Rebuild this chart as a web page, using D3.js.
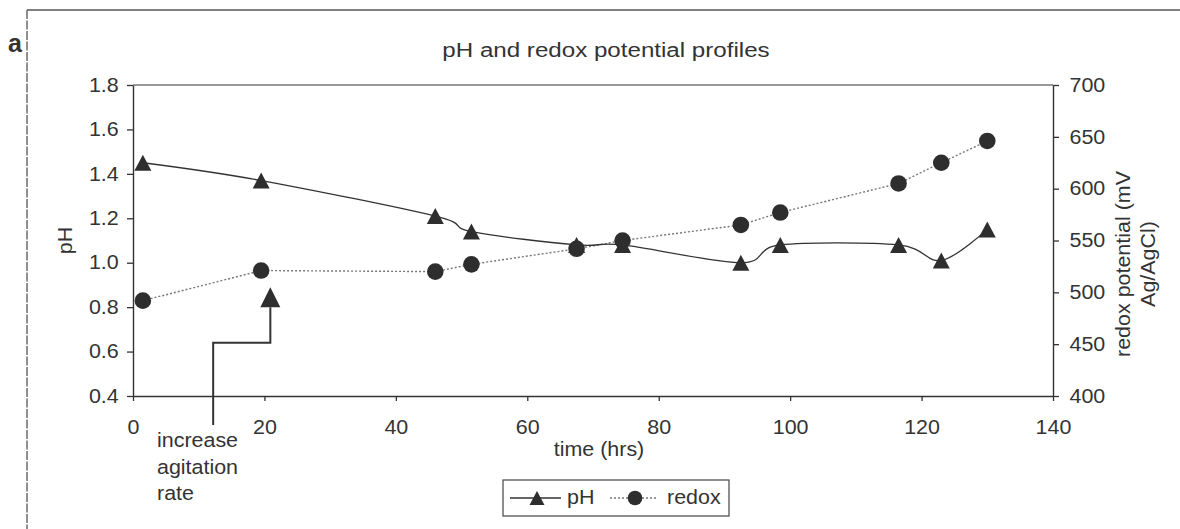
<!DOCTYPE html>
<html>
<head>
<meta charset="utf-8">
<script src="https://cdn.jsdelivr.net/npm/d3@7"></script>
<style>
  body { margin: 0; background: #fff; }
  svg { display: block; }
  text { font-family: "Liberation Sans", Arial, sans-serif; fill: #333; }
</style>
</head>
<body>
<svg id="chart" width="1180" height="529"></svg>
<script>
// Sampling times (hours) and measured values
const hours = [1.5, 19.5, 46, 51.5, 67.5, 74.5, 92.5, 98.5, 116.5, 123, 130];
const phValues = [1.45, 1.37, 1.21, 1.14, 1.08, 1.08, 1.00, 1.08, 1.08, 1.01, 1.15];
const redoxValues = [492, 521, 520, 527, 542, 550, 565, 577, 605, 625, 646];

// Axis ticks
const timeTicks = [0, 20, 40, 60, 80, 100, 120, 140];
const phTicks = [0.4, 0.6, 0.8, 1.0, 1.2, 1.4, 1.6, 1.8];
const redoxTicks = [400, 450, 500, 550, 600, 650, 700];

// Agitation-change note: elbow arrow given in (hours, pH)
const agitationPath = [[12.2, 0.27], [12.2, 0.64], [20.9, 0.64], [20.9, 0.80]];
const agitationTip = [20.9, 0.89];
const agitationNote = ["increase", "agitation", "rate"];

const svg = d3.select("#chart");
const FS = 19.5;      // base font size
const SX = 1.1;       // horizontal glyph stretch

const x = d3.scaleLinear().domain([0, 140]).range([133, 1053]);
const yL = d3.scaleLinear().domain([0.4, 1.8]).range([396, 85]);
const yR = d3.scaleLinear().domain([400, 700]).range([396, 85]);

// text helper: positioned group with rotation and horizontal stretch
function label(px, py, str, opt = {}) {
  const g = svg.append("g")
    .attr("transform", `translate(${px},${py}) rotate(${opt.rot || 0}) scale(${opt.sx || SX},1)`);
  return g.append("text")
    .attr("text-anchor", opt.anchor || "start")
    .attr("font-size", opt.size || FS)
    .attr("font-weight", opt.weight || "normal")
    .text(str);
}

// outer frame (top and left edges)
svg.append("line").attr("x1", 27).attr("x2", 1180).attr("y1", 10).attr("y2", 10)
  .attr("stroke", "#555").attr("stroke-width", 1.5);
svg.append("line").attr("x1", 27).attr("x2", 27).attr("y1", 10).attr("y2", 529)
  .attr("stroke", "#555").attr("stroke-width", 1.3).attr("stroke-dasharray", "9,1.5");

// panel letter and title
label(8, 52, "a", { size: 25, weight: "bold", sx: 1 });
label(606, 57, "pH and redox potential profiles", { anchor: "middle", size: 21, sx: 1.15 });

// plot area top edge
svg.append("line").attr("x1", x(0)).attr("x2", x(140)).attr("y1", yL(1.8)).attr("y2", yL(1.8))
  .attr("stroke", "#777").attr("stroke-width", 1.5);

function styleAxis(g) {
  g.attr("font-size", null).attr("font-family", null);
  g.selectAll("path.domain").attr("stroke", "#333").attr("stroke-width", 1.4);
  g.selectAll(".tick line").attr("stroke", "#333").attr("stroke-width", 1.3);
  g.selectAll(".tick text").attr("font-size", FS).attr("fill", "#333")
    .attr("transform", `scale(${SX},1)`);
}

svg.append("g").attr("transform", `translate(0,${yL(0.4)})`)
  .call(d3.axisBottom(x).tickValues(timeTicks).tickFormat(d3.format("d"))
    .tickSize(5).tickSizeOuter(0).tickPadding(19))
  .call(styleAxis);

svg.append("g").attr("transform", `translate(${x(0)},0)`)
  .call(d3.axisLeft(yL).tickValues(phTicks).tickFormat(d3.format(".1f"))
    .tickSize(6).tickSizeOuter(0).tickPadding(7))
  .call(styleAxis);

svg.append("g").attr("transform", `translate(${x(140)},0)`)
  .call(d3.axisRight(yR).tickValues(redoxTicks).tickFormat(d3.format("d"))
    .tickSize(6).tickSizeOuter(0).tickPadding(9))
  .call(styleAxis);

// axis titles
label(599, 456, "time (hrs)", { anchor: "middle" });
label(72, 240.5, "pH", { anchor: "middle", rot: -90 });
label(1130, 264, "redox potential (mV", { anchor: "middle", rot: -90 });
label(1155, 264, "Ag/AgCl)", { anchor: "middle", rot: -90 });

// series
const pts = hours.map((t, i) => ({ t, ph: phValues[i], redox: redoxValues[i] }));

svg.append("path").datum(pts)
  .attr("fill", "none").attr("stroke", "#777").attr("stroke-width", 1.4)
  .attr("stroke-dasharray", "2,2")
  .attr("d", d3.line().x(d => x(d.t)).y(d => yR(d.redox)));

svg.append("path").datum(pts)
  .attr("fill", "none").attr("stroke", "#333").attr("stroke-width", 1.3)
  .attr("d", d3.line().curve(d3.curveCardinal.tension(0)).x(d => x(d.t)).y(d => yL(d.ph)));

const MARK = "#2e2e2e";
function triPath(hw, hh) {
  return `M0,${-hh}L${hw},${hh}L${-hw},${hh}Z`;
}

svg.append("g").selectAll("circle").data(pts).join("circle")
  .attr("cx", d => x(d.t)).attr("cy", d => yR(d.redox)).attr("r", 8.3)
  .attr("fill", MARK);

svg.append("g").selectAll("path").data(pts).join("path")
  .attr("transform", d => `translate(${x(d.t)},${yL(d.ph)})`)
  .attr("d", triPath(8.5, 8)).attr("fill", MARK);

// agitation note
svg.append("path")
  .attr("d", d3.line().x(d => x(d[0])).y(d => yL(d[1]))(agitationPath))
  .attr("fill", "none").attr("stroke", "#333").attr("stroke-width", 2);
{
  const bx = x(agitationPath[3][0]), by = yL(agitationPath[3][1]);
  const tx = x(agitationTip[0]), ty = yL(agitationTip[1]);
  svg.append("path")
    .attr("d", `M${tx},${ty}L${bx + 10},${by}L${bx - 10},${by}Z`)
    .attr("fill", MARK);
}
agitationNote.forEach((s, i) => label(157, 447 + i * 26.5, s));

// legend
const lg = svg.append("g");
lg.append("rect").attr("x", 503).attr("y", 480).attr("width", 226).attr("height", 36)
  .attr("fill", "#fff").attr("stroke", "#444").attr("stroke-width", 1.2);
lg.append("line").attr("x1", 510).attr("x2", 561).attr("y1", 498).attr("y2", 498)
  .attr("stroke", "#333").attr("stroke-width", 1.3);
lg.append("path").attr("transform", "translate(537,498)").attr("d", triPath(7.5, 7)).attr("fill", MARK);
label(567, 504, "pH");
lg.append("line").attr("x1", 610).attr("x2", 657).attr("y1", 498).attr("y2", 498)
  .attr("stroke", "#777").attr("stroke-width", 1.4).attr("stroke-dasharray", "2,2");
lg.append("circle").attr("cx", 635).attr("cy", 498).attr("r", 7.3).attr("fill", MARK);
label(667, 504, "redox");
</script>
</body>
</html>
